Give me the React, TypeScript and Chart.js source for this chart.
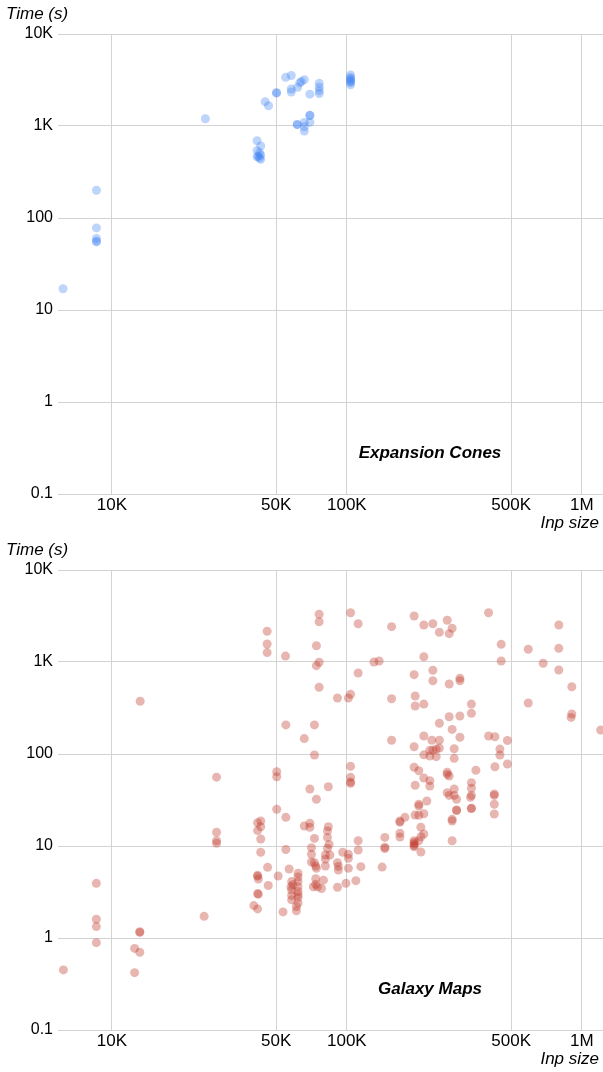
import React, { useEffect, useRef } from "react";
import { Chart, registerables } from "chart.js";

Chart.register(...registerables);

const FONT = '"Liberation Sans", Arial, Helvetica, sans-serif';

// Tick values and labels
const X_TICKS = [10000, 50000, 100000, 500000, 1000000];
const X_TICK_LABELS = ["10K", "50K", "100K", "500K", "1M"];
const Y_TICKS = [0.1, 1, 10, 100, 1000, 10000];
const Y_TICK_LABELS = ["0.1", "1", "10", "100", "1K", "10K"];
const X_MIN = 5900;
const X_MAX = 1230000;
const Y_MIN = 0.1;
const Y_MAX = 10000;

// Expansion Cones (input size, time in seconds)
const CONES_X = [
  6200, 8600, 8600, 8600, 8600, 8600, 25000,
  41500, 43000, 41500, 42500, 43000, 41500, 43000, 42000, 42500,
  44900, 46400, 50200, 50200, 54900, 58000, 58000, 58000, 61700,
  63100, 64000, 65900, 69600, 76300, 76300, 76300, 76300,
  103700, 103700, 103700, 103700, 103700, 103700, 103700,
  69600, 69600, 61500, 61500, 65900, 65900, 65900, 69600,
];
const CONES_Y = [
  17, 200, 78, 60, 56, 55, 1200,
  692, 606, 539, 509, 484, 461, 434, 470, 450,
  1840, 1660, 2300, 2290, 3380, 3540, 2525, 2345, 2640,
  2950, 3040, 3190, 2220, 2910, 2640, 2420, 2250,
  3580, 3370, 3250, 3160, 3050, 2970, 2800,
  1306, 1300, 1040, 1035, 1090, 982, 883, 1097,
];

// Galaxy Maps (input size, time in seconds)
const MAPS_X = [
  6220, 8590, 8590, 8590, 8590, 12500, 12500, 13150, 13150, 13150, 13200, 24700,
  27900, 27900, 27900, 27900, 40200, 41700, 41700, 43000, 43000, 41700, 43000, 43000,
  41700, 41700, 42000, 41700, 42000, 45800, 45800, 45800, 46000, 46300,
  50300, 50300, 50300, 53500, 54800, 55000, 55000, 55000, 51000, 56800,
  58200, 58900, 57800, 58200, 58200, 58200,
  62000, 62000, 62000, 62000, 62000, 62000, 62000, 62000, 61000, 61000,
  65900, 69600, 69600, 69600, 74200, 83400, 72800, 70700, 70700, 83400, 82700, 82700,
  84000, 82700, 81000, 81000, 84700, 70700, 72800, 73700, 74200, 81000,
  91200, 92000, 92000, 101500, 114700, 111700, 111700, 96000, 101500, 101500,
  73700, 73700, 72000, 75000, 78000, 79500, 91200, 99100, 109200,
  76200, 76200, 103700, 111700, 155000, 193300, 212600, 232200, 247500, 267300, 280500, 272500,
  400900, 453600, 453600, 591300, 684400, 797600, 797600, 797600, 906100,
  74200, 76200, 74200, 76200, 91200, 101500, 103700, 111700, 130400, 137200, 155000,
  193300, 212600, 232200, 232200, 272500, 302700, 302700, 195300, 195300, 212600,
  338800, 338800, 272500, 302700, 247500, 280500, 302700, 591300, 906100, 900000, 1202000,
  72800, 65900, 72800, 155000, 193300, 212600, 230000, 247500, 400900, 426600, 482100,
  447900, 447900, 286200, 286200, 225400, 232200, 240000, 247500, 212600, 240000, 225400,
  482100, 426600, 354000, 103700, 103700, 103700, 103700, 193300, 202400, 212600, 225400, 225400,
  195300, 267300, 272500, 267300, 338800, 338800, 338800, 336000, 286200, 286200, 293000,
  267300, 272500, 424000, 424000, 424000, 424000, 338800, 338800, 293000, 293000,
  280500, 280500, 280500, 218900, 202400, 202400, 195000, 202400, 212600, 176600,
  168200, 168200, 206500, 168200, 168200, 212600, 206500,
  193300, 193300, 193300, 193300, 193300, 202400, 206500, 145100, 145100, 145100, 141300,
];
const MAPS_Y = [
  0.45, 3.93, 1.6, 1.33, 0.89, 0.77, 0.42, 0.7, 1.15, 1.17, 374, 1.72,
  56, 14.1, 11.4, 10.7, 2.25, 2.07, 17.9, 18.7, 16.2, 14.7, 11.9, 8.55,
  4.8, 4.7, 4.38, 3.05, 2.98, 2160, 1570, 1265, 5.86, 3.72,
  64.2, 56.6, 25.1, 1.92, 1160, 207, 20.5, 9.16, 4.72, 5.62,
  4.1, 3.8, 3.6, 3.32, 2.9, 2.6,
  5.05, 4.6, 4.1, 3.6, 3.2, 2.95, 2.75, 2.4, 2.2, 1.98,
  16.5, 17.7, 16, 41.7, 32.2, 44.1, 12.1, 9.6, 8.13, 16.2, 14.6, 12.4,
  10.4, 9.45, 7.98, 7.2, 7.98, 6.7, 6.58, 6.06, 5.72, 6.06,
  6.58, 6.0, 5.48, 5.72, 5.96, 11.4, 9.05, 8.55, 8.13, 7.35,
  4.4, 3.83, 3.61, 3.61, 3.45, 4.25, 3.56, 3.93, 4.2,
  3300, 2740, 3435, 2605, 2420, 3165, 2525, 2605, 2103, 2840, 2325, 2032,
  3435, 1557, 1026, 1374, 968, 2525, 1408, 819, 539,
  1502, 993, 912, 531, 406, 406, 445, 760, 1000, 1026, 399,
  728, 1142, 813, 626, 577, 665, 626, 427, 332, 349,
  349, 277, 254, 259, 216, 185, 152, 358, 272, 250, 182,
  207, 147, 97.5, 141, 120, 157, 141, 141, 157, 154, 140,
  113, 97.5, 114, 89.7, 110, 110, 113, 116, 98, 93.5, 95,
  77.8, 72.7, 66.5, 73.4, 55.8, 49.6, 48.1, 71.7, 65.8, 54.8, 51.3, 44.9,
  45.7, 63.3, 57.7, 60, 48.8, 42.4, 35.5, 33.8, 41.7, 35.5, 32.2,
  38, 35.5, 36.7, 35.5, 28.4, 22.3, 25.7, 25.5, 24.6, 24.3,
  19.5, 18.7, 11.4, 30.8, 28.4, 27.2, 21.7, 21.6, 22.4, 20.5,
  18.7, 18.1, 16, 13.8, 12.5, 13.5, 12.6,
  11.4, 10.9, 10.5, 10.1, 9.8, 11.4, 8.6, 12.4, 9.7, 9.4, 5.9,
];

const textPlugin = {
  id: "panelTexts",
  afterDraw(chart: any, _args: any, opts: any) {
    const { ctx, chartArea } = chart;
    ctx.save();
    ctx.fillStyle = "#000";
    ctx.textBaseline = "middle";
    ctx.font = `italic 17px ${FONT}`;
    ctx.textAlign = "left";
    ctx.fillText("Time (s)", 6, chartArea.top - 20);
    ctx.textAlign = "right";
    ctx.fillText("Inp size", chart.width - 4, chartArea.bottom + 29);
    ctx.font = `bold italic 17px ${FONT}`;
    ctx.textAlign = "center";
    ctx.fillText(opts.label, chartArea.left + 372, chartArea.bottom - 41);
    ctx.restore();
  },
};

function Panel(props: { xs: number[]; ys: number[]; color: string; label: string }) {
  const ref = useRef<HTMLCanvasElement>(null);
  useEffect(() => {
    if (!ref.current) return;
    const data = props.xs.map((x, i) => ({ x, y: props.ys[i] }));
    const chart = new Chart(ref.current, {
      type: "scatter",
      data: {
        datasets: [
          {
            label: props.label,
            data,
            backgroundColor: props.color,
            borderWidth: 0,
            pointRadius: 4.5,
            pointHoverRadius: 4.5,
            clip: false as any,
          },
        ],
      },
      options: {
        responsive: false,
        animation: false,
        events: [],
        layout: { autoPadding: false, padding: { top: 34, left: 0, right: 0, bottom: 0 } },
        plugins: {
          legend: { display: false },
          tooltip: { enabled: false },
          title: { display: false },
          panelTexts: { label: props.label },
        } as any,
        scales: {
          x: {
            type: "logarithmic",
            min: X_MIN,
            max: X_MAX,
            afterBuildTicks: (s: any) => {
              s.ticks = X_TICKS.map((v) => ({ value: v }));
            },
            afterFit: (s: any) => {
              s.height = 42;
            },
            ticks: {
              autoSkip: false,
              maxRotation: 0,
              padding: 1,
              color: "#000",
              font: { family: FONT, size: 17 },
              callback: (v: any) => {
                const i = X_TICKS.indexOf(Number(v));
                return i >= 0 ? X_TICK_LABELS[i] : "";
              },
            },
            grid: { color: "#d3d3d3", lineWidth: 1, drawTicks: false },
            border: { display: false },
          },
          y: {
            type: "logarithmic",
            min: Y_MIN,
            max: Y_MAX,
            afterBuildTicks: (s: any) => {
              s.ticks = Y_TICKS.map((v) => ({ value: v }));
            },
            afterFit: (s: any) => {
              s.width = 58;
            },
            ticks: {
              autoSkip: false,
              padding: 5,
              color: "#000",
              font: { family: FONT, size: 16 },
              callback: (v: any) => {
                const i = Y_TICKS.findIndex((t) => Math.abs(t - Number(v)) < t * 1e-6);
                return i >= 0 ? Y_TICK_LABELS[i] : "";
              },
            },
            grid: { color: "#d3d3d3", lineWidth: 1, drawTicks: false },
            border: { display: false },
          },
        },
      },
      plugins: [textPlugin],
    } as any);
    return () => chart.destroy();
  }, []);
  return <canvas ref={ref} width={603} height={536} style={{ display: "block", width: 603, height: 536 }} />;
}

export default function App() {
  return (
    <div style={{ position: "absolute", left: 0, top: 0, width: 603, height: 1072, background: "#fff" }}>
      <Panel xs={CONES_X} ys={CONES_Y} color="rgba(66,133,244,0.35)" label="Expansion Cones" />
      <Panel xs={MAPS_X} ys={MAPS_Y} color="rgba(192,57,43,0.37)" label="Galaxy Maps" />
    </div>
  );
}
